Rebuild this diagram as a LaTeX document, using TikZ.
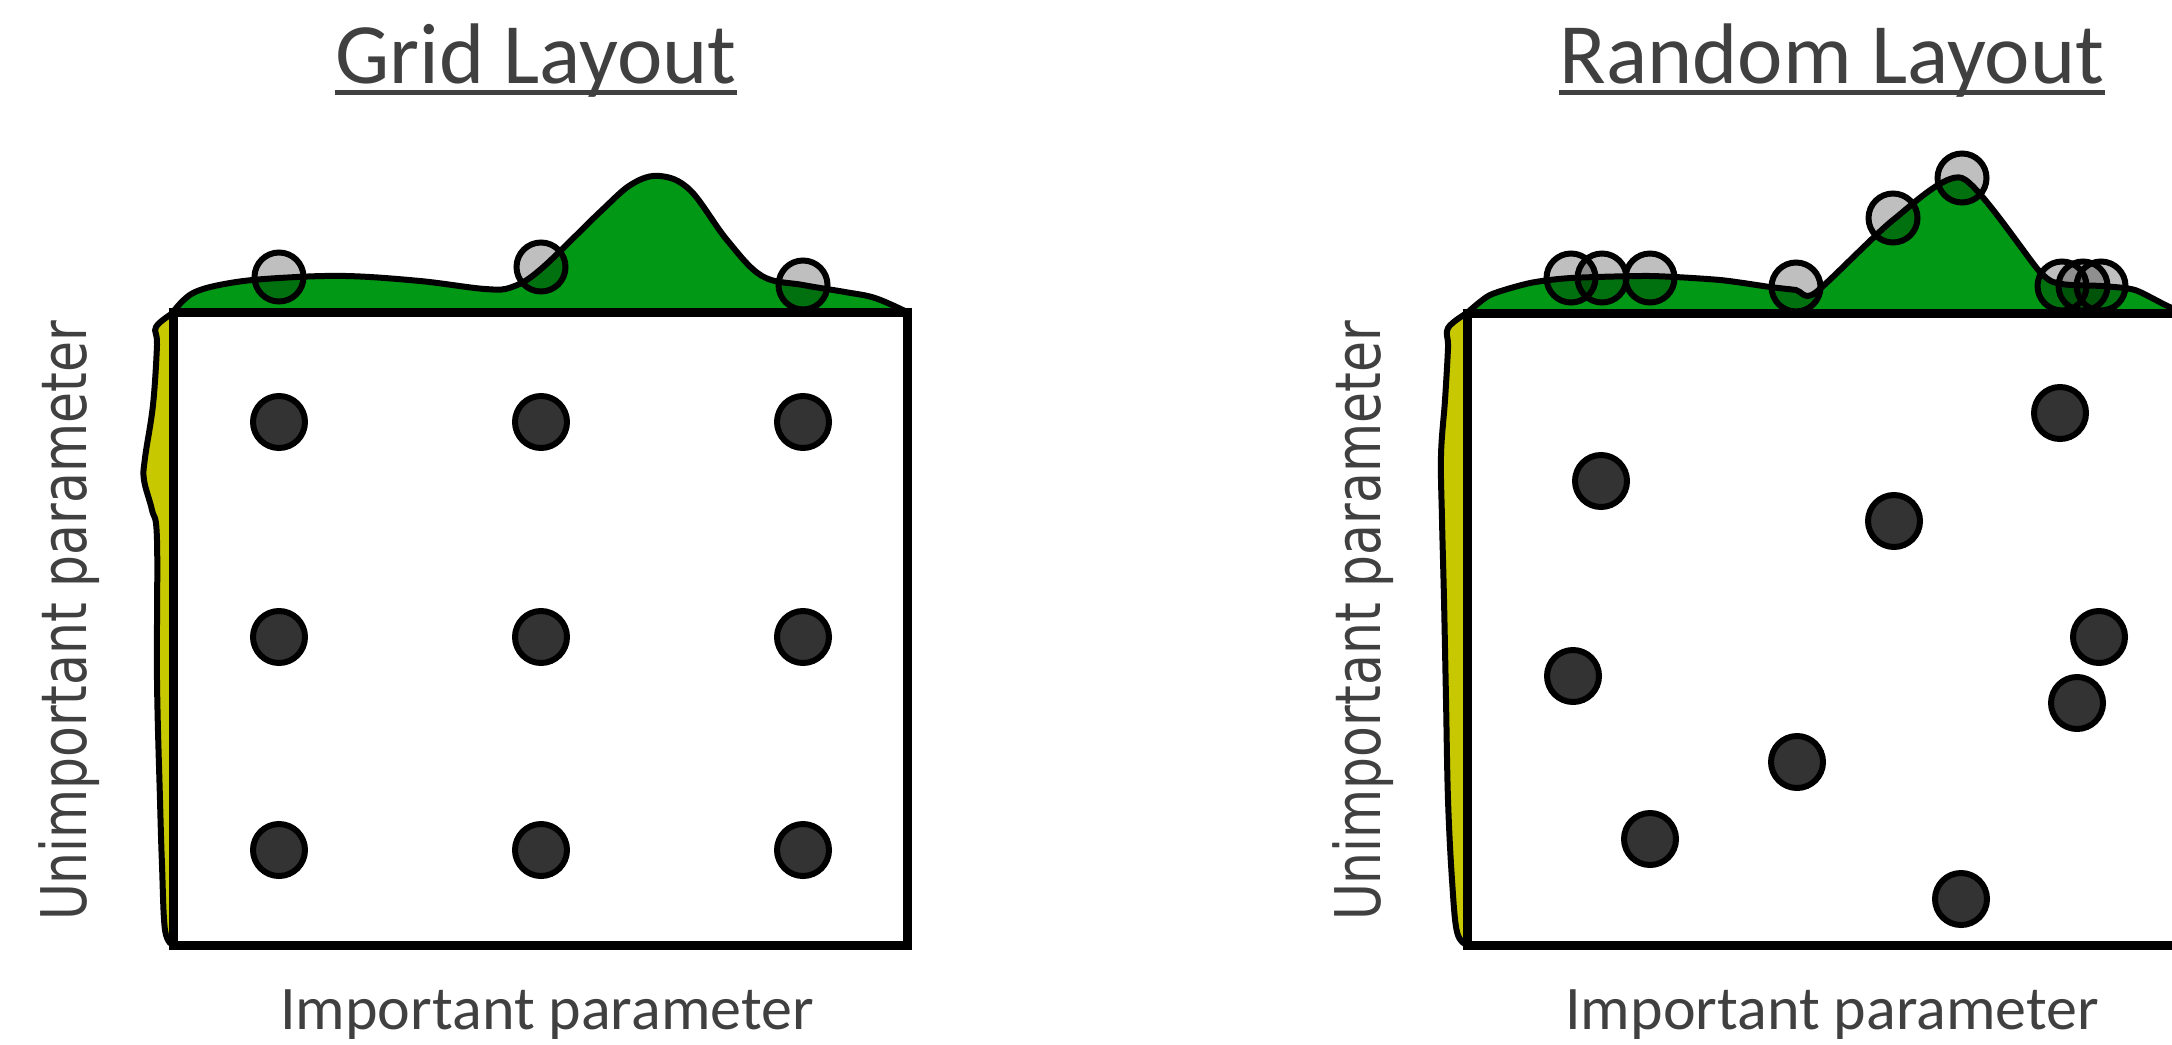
\documentclass[tikz,border=0pt]{standalone}
\usepackage{fontspec}
\setmainfont{Carlito}
\newfontfamily\sidefont[FakeStretch=0.8]{DejaVu Sans}

\definecolor{densgreen}{RGB}{0,152,20}
\definecolor{densyellow}{RGB}{200,200,0}
\definecolor{dotgray}{RGB}{51,51,51}
\definecolor{textgray}{RGB}{64,64,64}

\begin{document}
\begin{tikzpicture}[x=0.5pt, y=-0.5pt,
  titletext/.style={font=\fontsize{43}{50}\selectfont, text=textgray, inner sep=0pt},
  axistext/.style={font=\fontsize{31}{36}\selectfont, text=textgray, inner sep=0pt},
  sidetext/.style={font=\sidefont\fontsize{31.5}{36}\selectfont, text=textgray, inner sep=0pt, rotate=90},
  underline/.style={textgray, line width=2.5pt},
  frame/.style={line width=4.5pt, fill=white},
  density/.style={line width=3pt, line join=round},
  sample/.style={circle, draw=black, line width=3pt, fill=dotgray, minimum size=26pt, inner sep=0pt},
  proj/.style={circle, draw=black, line width=3pt, fill=black, fill opacity=0.25, minimum size=24.5pt, inner sep=0pt}]

\useasboundingbox (0,0) rectangle (2172,1044);
\clip (0,0) rectangle (2172,1044);

% grid layout
\node[titletext, anchor=base] (gridtitle) at (536,83) {Grid Layout};
\draw[underline] ([yshift=-4.5pt]gridtitle.base west) -- ([yshift=-4.5pt]gridtitle.base east);

\draw[density, fill=densyellow] plot[smooth, tension=0.6] coordinates {(173,313) (156,327) (157,345) (153,405) (145,458) (144,480) (152,510) (157,540) (157,680) (160,800) (162,865) (165,930) (173,945)} -- cycle;
\draw[density, fill=densgreen] plot[smooth, tension=0.6] coordinates {(173,312) (193,293) (230,283) (279,278) (346,276) (420,281) (485,289) (512,287) (541,269) (600,212) (632,184) (660,176) (690,190) (727,240) (762,276) (803,285) (845,292) (875,298) (907,312)} -- cycle;
\draw[frame] (173,312) rectangle (907,945);

\node[proj] (gridp1) at (279,277) {};
\node[proj] (gridp2) at (541,267) {};
\node[proj] (gridp3) at (803,285) {};

\node[sample] (grid11) at (279,422) {};
\node[sample] (grid12) at (541,422) {};
\node[sample] (grid13) at (803,422) {};
\node[sample] (grid21) at (279,637) {};
\node[sample] (grid22) at (541,637) {};
\node[sample] (grid23) at (803,637) {};
\node[sample] (grid31) at (279,850) {};
\node[sample] (grid32) at (541,850) {};
\node[sample] (grid33) at (803,850) {};

\node[sidetext, anchor=base] (gridylabel) at (86,621) {Unimportant parameter};
\node[axistext, anchor=base] (gridxlabel) at (547,1029) {Important parameter};

% random layout
\node[titletext, anchor=base] (randtitle) at (1832,83) {Random Layout};
\draw[underline] ([yshift=-4.5pt]randtitle.base west) -- ([yshift=-4.5pt]randtitle.base east);

\draw[density, fill=densyellow] plot[smooth, tension=0.6] coordinates {(1467,313) (1448,328) (1448,348) (1445,400) (1441,455) (1442,520) (1444,600) (1446,700) (1448,800) (1452,880) (1457,932) (1467,945)} -- cycle;
\draw[density, fill=densgreen] plot[smooth, tension=0.4] coordinates {(1467,313) (1490,295) (1530,283) (1571,278) (1650,276) (1720,280) (1770,287) (1796,290) (1815,293) (1893,220) (1962,178) (2040,272) (2062,284) (2101,286) (2135,290) (2172,308) (2200,313)} -- cycle;
\draw[frame] (1467,313) rectangle (2201,945);

\node[proj] (randp1) at (1571,278) {};
\node[proj] (randp2) at (1602,278) {};
\node[proj] (randp3) at (1650,278) {};
\node[proj] (randp4) at (1796,287) {};
\node[proj] (randp5) at (1893,218) {};
\node[proj] (randp6) at (1962,178) {};
\node[proj] (randp7) at (2062,286) {};
\node[proj] (randp8) at (2083,286) {};
\node[proj] (randp9) at (2101,286) {};

\node[sample] (rand1) at (1601,481) {};
\node[sample] (rand2) at (1894,521) {};
\node[sample] (rand3) at (2060,413) {};
\node[sample] (rand4) at (2099,637) {};
\node[sample] (rand5) at (2077,703) {};
\node[sample] (rand6) at (1573,676) {};
\node[sample] (rand7) at (1797,762) {};
\node[sample] (rand8) at (1650,839) {};
\node[sample] (rand9) at (1961,899) {};

\node[sidetext, anchor=base] (randylabel) at (1380,621) {Unimportant parameter};
\node[axistext, anchor=base] (randxlabel) at (1832,1029) {Important parameter};

\end{tikzpicture}
\end{document}
